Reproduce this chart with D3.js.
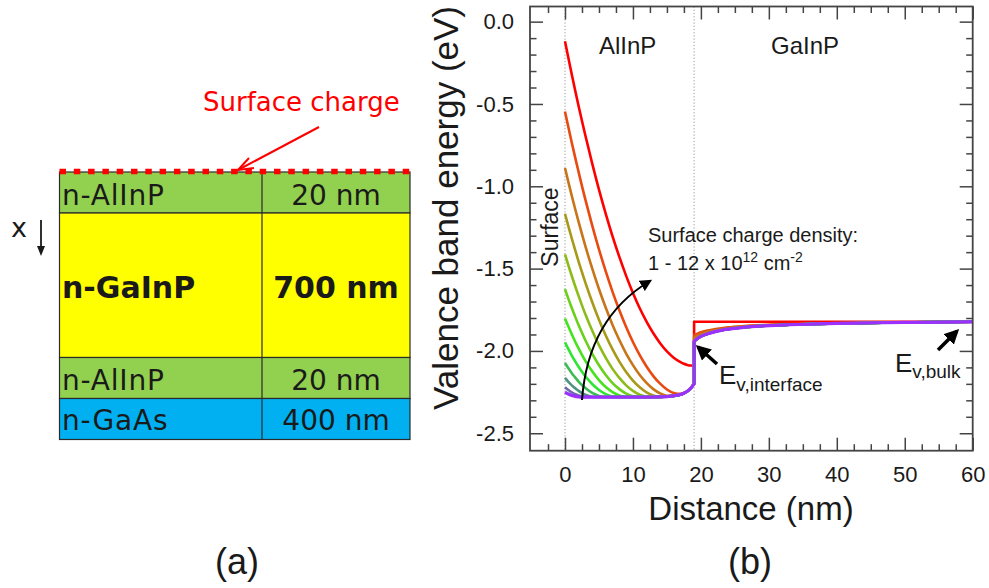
<!DOCTYPE html>
<html>
<head>
<meta charset="utf-8">
<script src="https://cdn.jsdelivr.net/npm/d3@7"></script>
<style>
  body { margin: 0; background: #fff; }
  svg { display: block; }
  .axis text { font-family: "Liberation Sans", Arial, sans-serif; font-size: 22px; fill: #1a1a1a; }
  .axis line { stroke: #444; stroke-width: 1.5px; }
  .axis path { display: none; }
</style>
</head>
<body>
<script>
// ---------- (a) layer stack ----------
const layerNames = ["n-AlInP", "n-GaInP", "n-AlInP", "n-GaAs"];
const layerThickness = ["20 nm", "700 nm", "20 nm", "400 nm"];

// ---------- (b) valence band profiles ----------
// surface charge density, x10^12 cm^-2
const chargeDensity = [1, 2, 3, 4, 5, 6, 7, 8, 9, 10, 11, 12];

// depth positions (nm) inside the AlInP window layer
const alinpX = [0, 0.5, 1, 1.5, 2, 2.5, 3, 4, 5, 6, 7, 8, 9, 10, 11, 12, 13, 14, 15, 16, 17, 17.5, 18, 18.5, 19];

// Ev (eV) in AlInP, one row per charge density (1 ... 12)
const evAlInP = [
  [-2.250,-2.262,-2.270,-2.276,-2.279,-2.280,-2.280,-2.280,-2.280,-2.280,-2.280,-2.280,-2.280,-2.280,-2.280,-2.280,-2.280,-2.279,-2.277,-2.273,-2.265,-2.257,-2.245,-2.227,-2.200],
  [-2.220,-2.237,-2.251,-2.262,-2.270,-2.276,-2.279,-2.280,-2.280,-2.280,-2.280,-2.280,-2.280,-2.280,-2.280,-2.280,-2.280,-2.279,-2.277,-2.273,-2.265,-2.257,-2.245,-2.227,-2.200],
  [-2.164,-2.188,-2.209,-2.227,-2.243,-2.256,-2.266,-2.278,-2.280,-2.280,-2.280,-2.280,-2.280,-2.280,-2.280,-2.280,-2.280,-2.279,-2.277,-2.273,-2.265,-2.257,-2.245,-2.227,-2.200],
  [-2.073,-2.105,-2.135,-2.161,-2.186,-2.207,-2.225,-2.255,-2.273,-2.280,-2.280,-2.280,-2.280,-2.280,-2.280,-2.280,-2.280,-2.279,-2.277,-2.273,-2.265,-2.257,-2.245,-2.227,-2.200],
  [-1.948,-1.989,-2.028,-2.063,-2.096,-2.127,-2.154,-2.201,-2.237,-2.262,-2.277,-2.280,-2.280,-2.280,-2.280,-2.280,-2.280,-2.279,-2.277,-2.273,-2.265,-2.257,-2.245,-2.227,-2.200],
  [-1.803,-1.852,-1.899,-1.944,-1.985,-2.024,-2.060,-2.124,-2.177,-2.219,-2.250,-2.270,-2.279,-2.280,-2.280,-2.280,-2.280,-2.279,-2.277,-2.273,-2.265,-2.257,-2.245,-2.227,-2.200],
  [-1.625,-1.684,-1.739,-1.792,-1.843,-1.890,-1.935,-2.016,-2.087,-2.146,-2.195,-2.232,-2.259,-2.275,-2.280,-2.280,-2.280,-2.279,-2.277,-2.273,-2.265,-2.257,-2.245,-2.227,-2.200],
  [-1.413,-1.481,-1.545,-1.607,-1.666,-1.723,-1.777,-1.876,-1.965,-2.042,-2.109,-2.164,-2.209,-2.243,-2.266,-2.278,-2.280,-2.279,-2.277,-2.273,-2.265,-2.257,-2.245,-2.227,-2.200],
  [-1.167,-1.243,-1.317,-1.388,-1.457,-1.522,-1.585,-1.703,-1.810,-1.906,-1.991,-2.065,-2.128,-2.180,-2.221,-2.252,-2.271,-2.279,-2.277,-2.273,-2.265,-2.257,-2.245,-2.227,-2.200],
  [-0.889,-0.975,-1.058,-1.138,-1.216,-1.291,-1.363,-1.499,-1.624,-1.738,-1.842,-1.934,-2.016,-2.086,-2.146,-2.194,-2.232,-2.258,-2.272,-2.273,-2.265,-2.257,-2.245,-2.227,-2.200],
  [-0.546,-0.642,-0.735,-0.826,-0.913,-0.999,-1.081,-1.237,-1.383,-1.517,-1.641,-1.753,-1.855,-1.946,-2.026,-2.095,-2.153,-2.199,-2.234,-2.255,-2.261,-2.256,-2.245,-2.227,-2.200],
  [-0.119,-0.221,-0.321,-0.418,-0.512,-0.604,-0.692,-0.861,-1.020,-1.167,-1.304,-1.429,-1.544,-1.648,-1.741,-1.822,-1.893,-1.953,-2.003,-2.041,-2.068,-2.078,-2.085,-2.089,-2.090]
];

// depth positions (nm) inside the GaInP absorber
const gainpX = [19, 19.5, 20, 21, 22, 23, 24, 26, 28, 30, 33, 36, 40, 45, 50, 55, 60];

// Ev (eV) in GaInP, one row per charge density (1 ... 12)
const evGaInP = [
  [-1.942,-1.925,-1.912,-1.896,-1.884,-1.875,-1.868,-1.858,-1.851,-1.846,-1.841,-1.837,-1.833,-1.830,-1.827,-1.825,-1.823],
  [-1.942,-1.925,-1.912,-1.896,-1.884,-1.875,-1.868,-1.858,-1.851,-1.846,-1.841,-1.837,-1.833,-1.830,-1.827,-1.825,-1.823],
  [-1.942,-1.925,-1.912,-1.896,-1.884,-1.875,-1.868,-1.858,-1.851,-1.846,-1.841,-1.837,-1.833,-1.830,-1.827,-1.825,-1.823],
  [-1.942,-1.925,-1.912,-1.896,-1.884,-1.875,-1.868,-1.858,-1.851,-1.846,-1.841,-1.837,-1.833,-1.830,-1.827,-1.825,-1.823],
  [-1.942,-1.925,-1.912,-1.896,-1.884,-1.875,-1.868,-1.858,-1.851,-1.846,-1.841,-1.837,-1.833,-1.830,-1.827,-1.825,-1.823],
  [-1.942,-1.925,-1.912,-1.896,-1.884,-1.875,-1.868,-1.858,-1.851,-1.846,-1.841,-1.837,-1.833,-1.830,-1.827,-1.825,-1.823],
  [-1.942,-1.925,-1.912,-1.896,-1.884,-1.875,-1.868,-1.858,-1.851,-1.846,-1.841,-1.837,-1.833,-1.830,-1.827,-1.825,-1.823],
  [-1.942,-1.925,-1.912,-1.896,-1.884,-1.875,-1.868,-1.858,-1.851,-1.846,-1.841,-1.837,-1.833,-1.830,-1.827,-1.825,-1.823],
  [-1.942,-1.925,-1.912,-1.896,-1.884,-1.875,-1.868,-1.858,-1.851,-1.846,-1.841,-1.837,-1.833,-1.830,-1.827,-1.825,-1.823],
  [-1.922,-1.909,-1.898,-1.884,-1.875,-1.868,-1.862,-1.854,-1.848,-1.843,-1.839,-1.835,-1.832,-1.829,-1.826,-1.825,-1.823],
  [-1.905,-1.895,-1.887,-1.876,-1.868,-1.862,-1.857,-1.850,-1.845,-1.841,-1.837,-1.834,-1.831,-1.829,-1.826,-1.825,-1.823],
  [-1.823,-1.823,-1.823,-1.823,-1.823,-1.823,-1.823,-1.823,-1.823,-1.823,-1.823,-1.823,-1.823,-1.823,-1.823,-1.823,-1.823]
];

const interfaceX = 19;
const xTickValues = [0, 10, 20, 30, 40, 50, 60];
const xTickLabels = ["0", "10", "20", "30", "40", "50", "60"];
const yTickValues = [0, -0.5, -1.0, -1.5, -2.0, -2.5];
const yTickLabels = ["0.0", "-0.5", "-1.0", "-1.5", "-2.0", "-2.5"];

// line colours from low (purple) to high (red) charge density
const lineColors = ["#9b30ff", "#6a6aac", "#4f9482", "#3cbc54", "#2ee632", "#44e41c",
                    "#6ad01a", "#8cbb1a", "#a89a18", "#c8751a", "#e84a10", "#ff0000"];

const W = 989, H = 588;
const svg = d3.select("body").append("svg").attr("width", W).attr("height", H);
svg.append("rect").attr("width", W).attr("height", H).attr("fill", "#fff");

const defs = svg.append("defs");
function arrowMarker(id, color, size) {
  defs.append("marker")
    .attr("id", id)
    .attr("viewBox", "0 0 10 10")
    .attr("refX", 8).attr("refY", 5)
    .attr("markerUnits", "userSpaceOnUse")
    .attr("markerWidth", size).attr("markerHeight", size)
    .attr("orient", "auto")
    .append("path").attr("d", "M0,0 L10,5 L0,10 Z").attr("fill", color);
}
arrowMarker("headBlack", "#000", 12);
arrowMarker("headBig", "#000", 15);

// ================= (a) layer stack =================
const stack = svg.append("g");
const boxLeft = 59.5, boxRight = 410, boxDivider = 262;
const rowEdges = [172, 213, 357.5, 398.5, 439.5];
const rowFill = ["#92d050", "#ffff00", "#92d050", "#00b0f0"];
const rowBaseline = [205, 298, 390, 430];
const rowBold = [false, true, false, false];
const stackFont = "DejaVu Sans, Verdana, sans-serif";

layerNames.forEach((name, i) => {
  stack.append("rect")
    .attr("x", boxLeft).attr("y", rowEdges[i])
    .attr("width", boxRight - boxLeft).attr("height", rowEdges[i + 1] - rowEdges[i])
    .attr("fill", rowFill[i]).attr("stroke", "#2b2b2b").attr("stroke-width", 1.2);
  stack.append("text")
    .attr("x", 62).attr("y", rowBaseline[i])
    .attr("font-family", stackFont)
    .attr("font-size", rowBold[i] ? 30 : 28)
    .attr("font-weight", rowBold[i] ? "bold" : "normal")
    .attr("letter-spacing", rowBold[i] ? 0 : 0.8)
    .attr("fill", "#1a1a1a")
    .text(name);
  stack.append("text")
    .attr("x", (boxDivider + boxRight) / 2).attr("y", rowBaseline[i])
    .attr("text-anchor", "middle")
    .attr("font-family", stackFont)
    .attr("font-size", rowBold[i] ? 30 : 28)
    .attr("font-weight", rowBold[i] ? "bold" : "normal")
    .attr("fill", "#1a1a1a")
    .text(layerThickness[i]);
});
stack.append("line")
  .attr("x1", boxDivider).attr("x2", boxDivider)
  .attr("y1", rowEdges[0]).attr("y2", rowEdges[4])
  .attr("stroke", "#2b2b2b").attr("stroke-width", 1.2);

// surface charge sheet
stack.append("line")
  .attr("x1", boxLeft).attr("x2", boxRight + 1)
  .attr("y1", 171.5).attr("y2", 171.5)
  .attr("stroke", "#ff0000").attr("stroke-width", 5.5)
  .attr("stroke-dasharray", "6.5 7.8");

stack.append("text")
  .attr("x", 203).attr("y", 111)
  .attr("font-family", stackFont)
  .attr("font-size", 26).attr("fill", "#ff0000")
  .text("Surface charge");

// pointer from label to the charge sheet
stack.append("line")
  .attr("x1", 319).attr("y1", 127).attr("x2", 238).attr("y2", 170)
  .attr("stroke", "#ff0000").attr("stroke-width", 2);
stack.append("path")
  .attr("d", "M249,158 L238,170 L254,168")
  .attr("fill", "none").attr("stroke", "#ff0000").attr("stroke-width", 2);

// depth direction
stack.append("text")
  .attr("x", 11).attr("y", 237)
  .attr("font-family", stackFont)
  .attr("font-size", 27).attr("fill", "#1a1a1a")
  .text("x");
stack.append("line")
  .attr("x1", 41).attr("x2", 41).attr("y1", 220).attr("y2", 248)
  .attr("stroke", "#1a1a1a").attr("stroke-width", 1.8);
stack.append("path").attr("d", "M37,246 L41,256 L45,246 Z").attr("fill", "#1a1a1a");

stack.append("text")
  .attr("x", 237).attr("y", 574).attr("text-anchor", "middle")
  .attr("font-family", "Liberation Sans, Arial, sans-serif")
  .attr("font-size", 36).attr("fill", "#1a1a1a")
  .text("(a)");

// ================= (b) band diagram =================
const plot = { left: 530, right: 972.7, top: 6.5, bottom: 450.7 };
const x = d3.scaleLinear().domain([-5.15, 60]).range([plot.left, plot.right]);
const y = d3.scaleLinear().domain([-2.606, 0.092]).range([plot.bottom, plot.top]);

const chart = svg.append("g");

// dotted guides at the surface and the AlInP/GaInP interface
[0, interfaceX].forEach(v => {
  chart.append("line")
    .attr("x1", x(v)).attr("x2", x(v))
    .attr("y1", plot.top).attr("y2", plot.bottom)
    .attr("stroke", "#9a9a9a").attr("stroke-width", 1)
    .attr("stroke-dasharray", "1.2 2");
});

// axes: major and minor ticks point inward on all four sides
const minorX = d3.range(-2.5, 60.01, 2.5).filter(v => !xTickValues.includes(v));
const minorY = d3.range(-25, 1, 1).map(v => v / 10).filter(v => !yTickValues.some(t => Math.abs(t - v) < 1e-9));

function addAxis(axis, transform) {
  chart.append("g").attr("class", "axis").attr("transform", transform).call(axis);
}
addAxis(d3.axisBottom(x).tickValues(xTickValues).tickFormat((d, i) => xTickLabels[i])
  .tickSizeInner(-13).tickSizeOuter(0).tickPadding(16), `translate(0,${plot.bottom})`);
addAxis(d3.axisBottom(x).tickValues(minorX).tickFormat("")
  .tickSizeInner(-6.5).tickSizeOuter(0), `translate(0,${plot.bottom})`);
addAxis(d3.axisTop(x).tickValues(xTickValues).tickFormat("")
  .tickSizeInner(-13).tickSizeOuter(0), `translate(0,${plot.top})`);
addAxis(d3.axisTop(x).tickValues(minorX).tickFormat("")
  .tickSizeInner(-6.5).tickSizeOuter(0), `translate(0,${plot.top})`);
addAxis(d3.axisLeft(y).tickValues(yTickValues).tickFormat((d, i) => yTickLabels[i])
  .tickSizeInner(-13).tickSizeOuter(0).tickPadding(16), `translate(${plot.left},0)`);
addAxis(d3.axisLeft(y).tickValues(minorY).tickFormat("")
  .tickSizeInner(-6.5).tickSizeOuter(0), `translate(${plot.left},0)`);
addAxis(d3.axisRight(y).tickValues(yTickValues).tickFormat("")
  .tickSizeInner(-13).tickSizeOuter(0), `translate(${plot.right},0)`);
addAxis(d3.axisRight(y).tickValues(minorY).tickFormat("")
  .tickSizeInner(-6.5).tickSizeOuter(0), `translate(${plot.right},0)`);

// band profiles: AlInP part, step at the interface, GaInP part
const lineAl = d3.line().x((d, i) => x(alinpX[i])).y(d => y(d)).curve(d3.curveMonotoneX);
const lineGa = d3.line().x((d, i) => x(gainpX[i])).y(d => y(d)).curve(d3.curveMonotoneX);

for (let i = chargeDensity.length - 1; i >= 0; i--) {
  const d = lineAl(evAlInP[i]) + lineGa(evGaInP[i]).replace(/^M/, "L");
  chart.append("path")
    .attr("d", d)
    .attr("fill", "none")
    .attr("stroke", lineColors[i])
    .attr("stroke-width", i === 0 ? 3.2 : 2.6)
    .attr("stroke-linejoin", "round");
}

// frame
chart.append("rect")
  .attr("x", plot.left).attr("y", plot.top)
  .attr("width", plot.right - plot.left).attr("height", plot.bottom - plot.top)
  .attr("fill", "none").attr("stroke", "#444").attr("stroke-width", 1.8);

const sans = "Liberation Sans, Arial, sans-serif";

// axis titles
chart.append("text")
  .attr("transform", "translate(458,208) rotate(-90)")
  .attr("text-anchor", "middle")
  .attr("font-family", sans).attr("font-size", 35).attr("fill", "#1a1a1a")
  .text("Valence band energy (eV)");
chart.append("text")
  .attr("x", 751).attr("y", 520).attr("text-anchor", "middle")
  .attr("font-family", sans).attr("font-size", 33).attr("fill", "#1a1a1a")
  .text("Distance (nm)");

// region labels
chart.append("text").attr("x", 599).attr("y", 54)
  .attr("font-family", sans).attr("font-size", 24).attr("fill", "#1a1a1a").text("AlInP");
chart.append("text").attr("x", 805).attr("y", 54).attr("text-anchor", "middle")
  .attr("font-family", sans).attr("font-size", 24).attr("fill", "#1a1a1a").text("GaInP");
chart.append("text")
  .attr("transform", "translate(558,227) rotate(-90)")
  .attr("text-anchor", "middle")
  .attr("font-family", sans).attr("font-size", 23).attr("fill", "#1a1a1a")
  .text("Surface");

// charge density note and sweep arrow
chart.append("text").attr("x", 648).attr("y", 242)
  .attr("font-family", sans).attr("font-size", 20).attr("fill", "#1a1a1a")
  .text("Surface charge density:");
const note = chart.append("text").attr("x", 648).attr("y", 270)
  .attr("font-family", sans).attr("font-size", 20).attr("fill", "#1a1a1a");
note.append("tspan").text("1 - 12 x 10");
note.append("tspan").attr("font-size", 14).attr("dy", -8).text("12");
note.append("tspan").attr("dy", 8).text(" cm");
note.append("tspan").attr("font-size", 14).attr("dy", -8).text("-2");

chart.append("path")
  .attr("d", "M582,400 Q588,318 650,281")
  .attr("fill", "none").attr("stroke", "#000").attr("stroke-width", 2)
  .attr("marker-end", "url(#headBlack)");

// Ev markers
const evInt = chart.append("text").attr("x", 719).attr("y", 384)
  .attr("font-family", sans).attr("font-size", 26).attr("fill", "#1a1a1a");
evInt.append("tspan").text("E");
evInt.append("tspan").attr("font-size", 19).attr("dy", 7).text("v,interface");
chart.append("line")
  .attr("x1", 717).attr("y1", 364).attr("x2", 698).attr("y2", 347)
  .attr("stroke", "#000").attr("stroke-width", 3.5)
  .attr("marker-end", "url(#headBig)");

const evBulk = chart.append("text").attr("x", 895).attr("y", 372)
  .attr("font-family", sans).attr("font-size", 26).attr("fill", "#1a1a1a");
evBulk.append("tspan").text("E");
evBulk.append("tspan").attr("font-size", 19).attr("dy", 6).text("v,bulk");
chart.append("line")
  .attr("x1", 938).attr("y1", 350).attr("x2", 957).attr("y2", 331)
  .attr("stroke", "#000").attr("stroke-width", 3.5)
  .attr("marker-end", "url(#headBig)");

chart.append("text")
  .attr("x", 750).attr("y", 574).attr("text-anchor", "middle")
  .attr("font-family", sans).attr("font-size", 36).attr("fill", "#1a1a1a")
  .text("(b)");
</script>
</body>
</html>
